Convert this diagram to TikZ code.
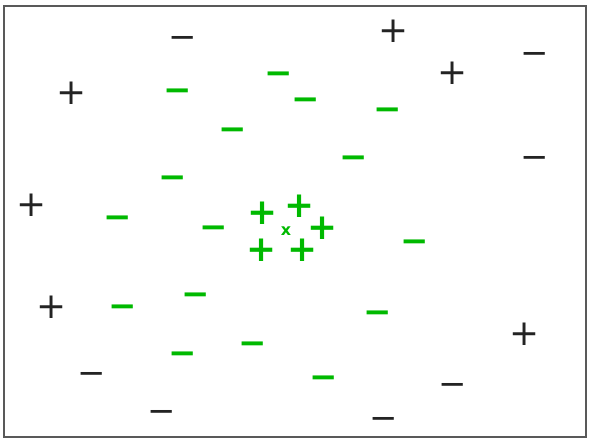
\documentclass[tikz,border=0pt]{standalone}
\usepackage{fontspec}
\newfontfamily\signfont{DejaVu Sans}
\definecolor{markgreen}{RGB}{0,185,0}
\definecolor{markblack}{RGB}{35,35,35}

\begin{document}
\begin{tikzpicture}[x=1bp, y=-1bp,
  plusmark/.style={inner sep=0pt, text=markblack, font=\signfont\fontsize{36}{36}\selectfont},
  minusmark/.style={inner sep=0pt, yshift=-5bp, text=markblack, font=\signfont\fontsize{34}{34}\selectfont},
  gplus/.style={inner sep=0pt, text=markgreen, font=\signfont\bfseries\fontsize{36}{36}\selectfont},
  gminus/.style={inner sep=0pt, yshift=-5bp, text=markgreen, font=\signfont\bfseries\fontsize{34}{34}\selectfont}]
\useasboundingbox (0,0) rectangle (591,443);
\draw[line width=1.5bp, black!65] (4,6) rectangle (586,437);

% outer black points
\node[minusmark] at (183,37) (n1) {−};
\node[plusmark] at (72,93) (p1) {+};
\node[plusmark] at (32,205) (p2) {+};
\node[plusmark] at (394,31) (p3) {+};
\node[plusmark] at (453,73) (p4) {+};
\node[minusmark] at (535,53) (n2) {−};
\node[minusmark] at (535,157) (n3) {−};
\node[plusmark] at (52,307) (p5) {+};
\node[minusmark] at (92,373) (n4) {−};
\node[minusmark] at (162,411) (n5) {−};
\node[plusmark] at (525,334) (p6) {+};
\node[minusmark] at (453,384) (n6) {−};
\node[minusmark] at (384,418) (n7) {−};

% green negatives
\node[gminus] at (178,90) (gn1) {−};
\node[gminus] at (279,73) (gn2) {−};
\node[gminus] at (306,99) (gn3) {−};
\node[gminus] at (388,109) (gn4) {−};
\node[gminus] at (233,129) (gn5) {−};
\node[gminus] at (354,157) (gn6) {−};
\node[gminus] at (173,177) (gn7) {−};
\node[gminus] at (118,217) (gn8) {−};
\node[gminus] at (214,227) (gn9) {−};
\node[gminus] at (415,241) (gn10) {−};
\node[gminus] at (123,306) (gn11) {−};
\node[gminus] at (196,294) (gn12) {−};
\node[gminus] at (378,312) (gn13) {−};
\node[gminus] at (183,353) (gn14) {−};
\node[gminus] at (253,343) (gn15) {−};
\node[gminus] at (324,377) (gn16) {−};

% green positives round the query
\node[gplus] at (263,213) (gp1) {+};
\node[gplus] at (300,206) (gp2) {+};
\node[gplus] at (323,228) (gp3) {+};
\node[gplus] at (262,250) (gp4) {+};
\node[gplus] at (303,250) (gp5) {+};
\node[inner sep=0pt, text=markgreen, font=\signfont\bfseries\fontsize{16}{16}\selectfont] at (286,231) (query) {x};
\end{tikzpicture}
\end{document}
